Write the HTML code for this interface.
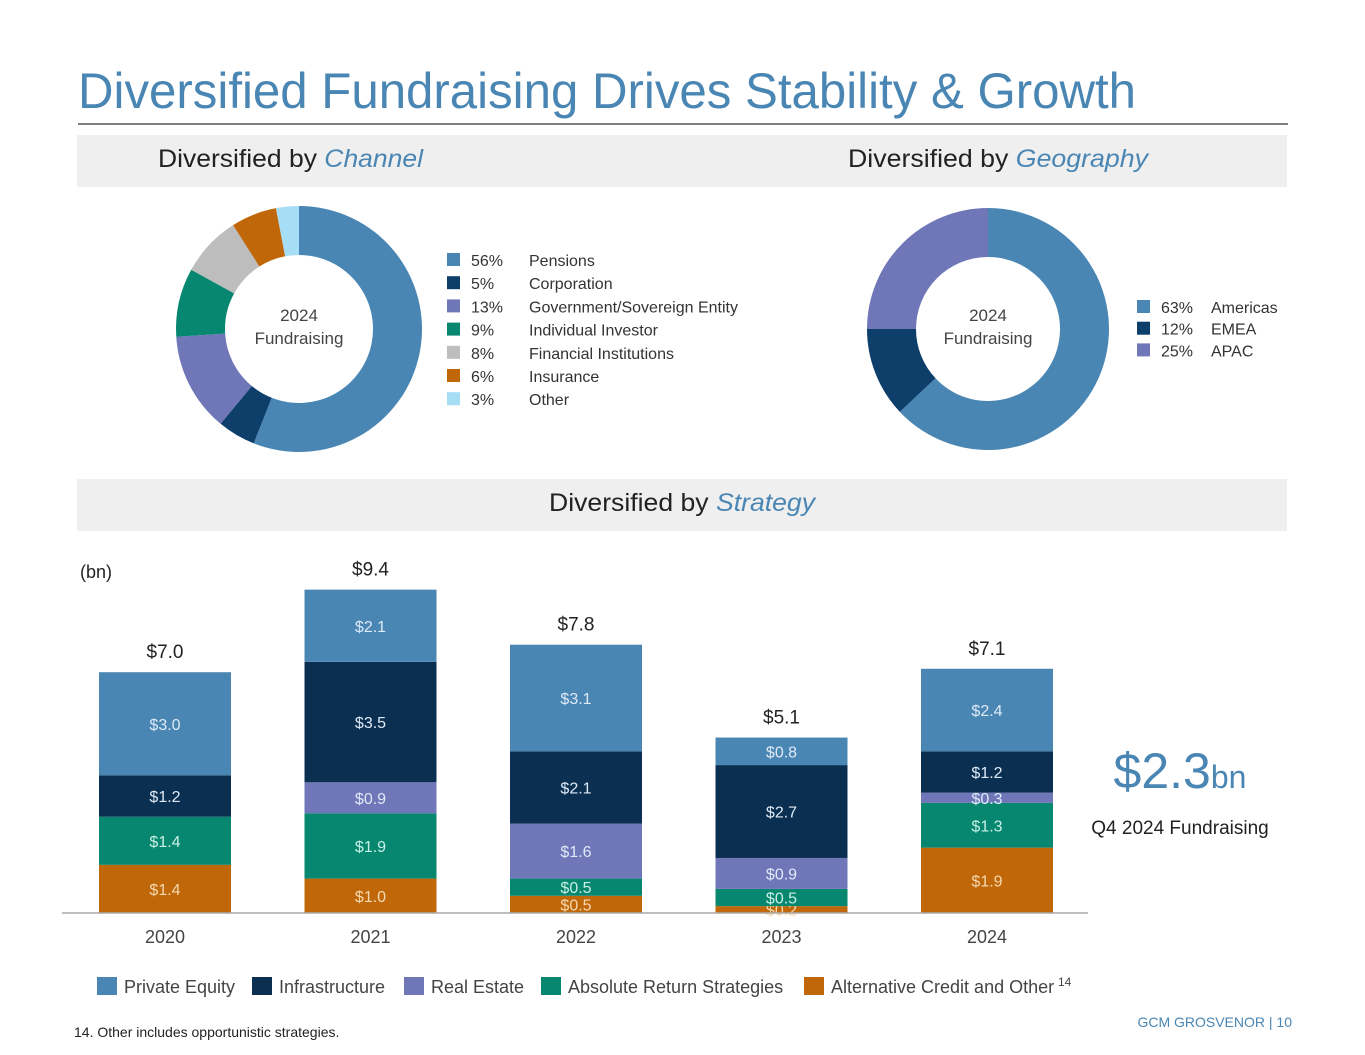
<!DOCTYPE html>
<html><head><meta charset="utf-8">
<style>
body{margin:0;background:#fff;font-family:"Liberation Sans",sans-serif;}
#page{position:relative;width:1365px;height:1055px;overflow:hidden;}
svg text{font-family:"Liberation Sans",sans-serif;}
</style></head>
<body>
<div id="page">
<svg id="s" width="1365" height="1055" viewBox="0 0 1365 1055">
<text x="78" y="108" font-size="50" fill="#4a86b4" textLength="1058" lengthAdjust="spacingAndGlyphs">Diversified Fundraising Drives Stability &amp; Growth</text>
<line x1="78" y1="124" x2="1288" y2="124" stroke="#555" stroke-width="1.5"/>
<rect x="77" y="135" width="1210" height="52" fill="#efefef"/>
<text x="158" y="167" font-size="25" fill="#222" textLength="265" lengthAdjust="spacingAndGlyphs">Diversified by <tspan fill="#4a86b4" font-style="italic">Channel</tspan></text>
<text x="848" y="167" font-size="25" fill="#222" textLength="300" lengthAdjust="spacingAndGlyphs">Diversified by <tspan fill="#4a86b4" font-style="italic">Geography</tspan></text>
<rect x="77" y="479" width="1210" height="52" fill="#efefef"/>
<text x="549" y="511" font-size="25" fill="#222" textLength="266" lengthAdjust="spacingAndGlyphs">Diversified by <tspan fill="#4a86b4" font-style="italic">Strategy</tspan></text>
<g id="donut1"></g>
<g id="donut2"></g>
<g id="bars"></g>
<text x="80" y="578" font-size="18" fill="#222">(bn)</text>
<text x="1180" y="788" font-size="50" fill="#4a86b4" text-anchor="middle">$2.3<tspan font-size="32">bn</tspan></text>
<text x="1180" y="834" font-size="19" fill="#222" text-anchor="middle">Q4 2024 Fundraising</text>
<text x="74" y="1037" font-size="14" fill="#222">14. Other includes opportunistic strategies.</text>
<text x="1292" y="1027" font-size="14" fill="#4a86b4" text-anchor="end">GCM GROSVENOR | 10</text>
</svg>
</div>
<script>
const NS="http://www.w3.org/2000/svg";
const chLabels=["Pensions","Corporation","Government/Sovereign Entity","Individual Investor","Financial Institutions","Insurance","Other"];
const chValues=[56,5,13,9,8,6,3];
const chColors=["#4a86b4","#0e3f6b","#6f77b8","#07876f","#bdbdbd","#c0670a","#a6def5"];
const geoLabels=["Americas","EMEA","APAC"];
const geoValues=[63,12,25];
const geoColors=["#4a86b4","#0e3f6b","#6f77b8"];
const years=["2020","2021","2022","2023","2024"];
const totals=["$7.0","$9.4","$7.8","$5.1","$7.1"];
const seriesNames=["Alternative Credit and Other","Absolute Return Strategies","Real Estate","Infrastructure","Private Equity"];
const altCredit=[1.4,1.0,0.5,0.2,1.9];
const absReturn=[1.4,1.9,0.5,0.5,1.3];
const realEstate=[0,0.9,1.6,0.9,0.3];
const infra=[1.2,3.5,2.1,2.7,1.2];
const privEq=[3.0,2.1,3.1,0.8,2.4];
const seriesColors=["#c0670a","#07876f","#6f77b8","#0b2f50","#4a86b4"];

function mk(tag,attrs,parent){const e=document.createElementNS(NS,tag);for(const k in attrs)e.setAttribute(k,attrs[k]);parent.appendChild(e);return e;}

function donut(g,cx,cy,ro,ri,vals,cols,labels,legX,legY,legGap,labOff){
  const tot=vals.reduce((a,b)=>a+b,0);let a0=0;
  vals.forEach((v,i)=>{
    const a1=a0+v/tot*2*Math.PI;
    const p=(r,a)=>[cx+r*Math.sin(a),cy-r*Math.cos(a)];
    const large=(a1-a0)>Math.PI?1:0;
    const [x1,y1]=p(ro,a0),[x2,y2]=p(ro,a1),[x3,y3]=p(ri,a1),[x4,y4]=p(ri,a0);
    const path=mk("path",{d:`M${x1},${y1}A${ro},${ro} 0 ${large} 1 ${x2},${y2}L${x3},${y3}A${ri},${ri} 0 ${large} 0 ${x4},${y4}Z`,fill:cols[i]},g);
    
    
    a0=a1;
    const y=legY+i*legGap;
    const sw=mk("rect",{x:legX,y:y-13,width:13,height:13,fill:cols[i]},g);
    
    
    const t1=mk("text",{x:legX+24,y:y,"font-size":16,fill:"#333"},g);t1.textContent=v+"%";
    
    
    const t2=mk("text",{x:legX+labOff,y:y,"font-size":16,fill:"#333"},g);t2.textContent=labels[i];
    
    
  });
  ["2024","Fundraising"].forEach((s,k)=>{const t=mk("text",{x:cx,y:cy-8+k*23,"font-size":17,fill:"#444","text-anchor":"middle"},g);t.textContent=s;
    
    });
}
donut(document.getElementById("donut1"),299,329,123,74,chValues,chColors,chLabels,447,266,23.2,82);
donut(document.getElementById("donut2"),988,329,121,72,geoValues,geoColors,geoLabels,1137,313,21.7,74);

// bar chart
const g=document.getElementById("bars");
const base=913,scale=34.4,x0=99,step=205.5,bw=132;
const yv=v=>v*scale;
const xp=i=>x0+i*step;
const ser=[altCredit,absReturn,realEstate,infra,privEq];
years.forEach((yr,i)=>{
  let cum=0;
  ser.forEach((arr,s)=>{
    const v=arr[i];if(!v)return;
    const h=yv(v),top=base-yv(cum)-h;
    const r=mk("rect",{x:xp(i),y:top,width:bw,height:h,fill:seriesColors[s]},g);
    
    
    const t=mk("text",{x:xp(i)+bw/2,y:top+h/2+6,"font-size":16,fill:s==0?"#f5d9b0":(s==1?"#c8f0e6":"#dfeaf7"),"text-anchor":"middle"},g);
    t.textContent="$"+v.toFixed(1);
    
    
    cum+=v;
  });
  const tt=mk("text",{x:xp(i)+bw/2,y:base-yv(cum)-14,"font-size":19,fill:"#222","text-anchor":"middle"},g);tt.textContent=totals[i];
  
  
  const xl=mk("text",{x:xp(i)+bw/2,y:943,"font-size":18,fill:"#444","text-anchor":"middle"},g);xl.textContent=yr;
  
  
});
const ax=mk("line",{x1:62,y1:base,x2:1088,y2:base,stroke:"#aaa","stroke-width":1.5},g);


// legend
const legOrder=[4,3,2,1,0];const legX=[97,252,404,541,804];
legOrder.forEach((s,k)=>{
  const r=mk("rect",{x:legX[k],y:977,width:20,height:18,fill:seriesColors[s]},g);
  
  
  const t=mk("text",{x:legX[k]+27,y:993,"font-size":18,fill:"#444"},g);t.textContent=seriesNames[s];
  
  
});
const sup=mk("text",{x:1058,y:986,"font-size":12,fill:"#444"},g);sup.textContent="14";


</script>
</body></html>
